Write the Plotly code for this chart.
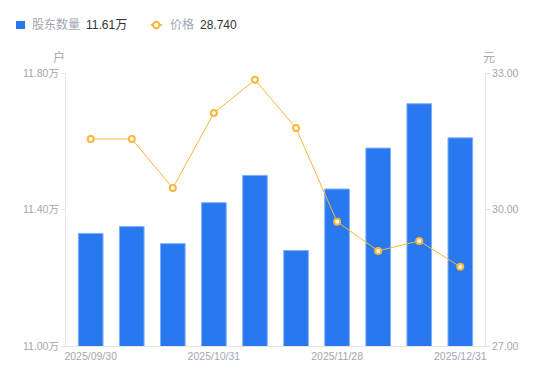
import plotly.graph_objects as go

categories = ["2025/09/30", "2025/10/10", "2025/10/20", "2025/10/31", "2025/11/10",
              "2025/11/20", "2025/11/28", "2025/12/10", "2025/12/19", "2025/12/31"]
holders_wan = [11.33, 11.35, 11.30, 11.42, 11.50, 11.28, 11.46, 11.58, 11.71, 11.61]
price = [31.55, 31.55, 30.47, 32.12, 32.85, 31.79, 29.73, 29.09, 29.31, 28.74]
tick_idx = [0, 3, 6, 9]
left_ticks = [11.0, 11.4, 11.8]
left_labels = ["11.00万", "11.40万", "11.80万"]
right_ticks = [27, 30, 33]
right_labels = ["27.00", "30.00", "33.00"]

FONT = "Liberation Sans, Arial, Noto Sans CJK SC, sans-serif"
GRAY = "#a3a6b2"
DARK = "#333333"
BLUE = "#2878f0"
ORANGE = "#f8b73c"

# The page body adds an 8px margin; the figure is sized so the plot lands where the reference has it.
W, H = 542, 373
L, R, T, B = 58, 65, 65, 35
PW, PH = W - L - R, H - T - B


def px(x):  # screen pixel x -> paper
    return (x - 8 - L) / PW


def py(y):  # screen pixel y -> paper
    return (H - B - (y - 8)) / PH


fig = go.Figure()
fig.add_trace(go.Bar(
    x=categories, y=holders_wan, base=0, name="股东数量",
    marker=dict(color=BLUE, line=dict(color="#7fb0f7", width=1)),
    width=0.6, yaxis="y", showlegend=False, hoverinfo="x+y",
))
fig.add_trace(go.Scatter(
    x=categories, y=price, mode="lines+markers", name="价格",
    line=dict(color=ORANGE, width=1),
    marker=dict(symbol="circle", size=6, color="white", line=dict(color=ORANGE, width=2)),
    yaxis="y2", showlegend=False,
))

shapes = [
    dict(type="rect", xref="paper", yref="paper", x0=px(16), x1=px(25), y0=py(29), y1=py(21),
         fillcolor=BLUE, line=dict(width=0)),
    dict(type="line", xref="paper", yref="paper", x0=px(151), x1=px(162), y0=py(25), y1=py(25),
         line=dict(color=ORANGE, width=2)),
    dict(type="circle", xref="paper", yref="paper", x0=px(153), x1=px(159.5), y0=py(28.2), y1=py(21.8),
         fillcolor="white", line=dict(color=ORANGE, width=2)),
]

annotations = [
    dict(text="股东数量", x=px(30), y=py(25), xanchor="left", yanchor="middle",
         font=dict(size=12, color=GRAY)),
    dict(text=f"{holders_wan[-1]:.2f}万", x=px(84), y=py(25), xanchor="left", yanchor="middle",
         font=dict(size=12, color=DARK)),
    dict(text="价格", x=px(168), y=py(25), xanchor="left", yanchor="middle",
         font=dict(size=12, color=GRAY)),
    dict(text=f"{price[-1]:.3f}", x=px(198), y=py(25), xanchor="left", yanchor="middle",
         font=dict(size=12, color=DARK)),
    dict(text="户", x=px(59), y=py(58), xanchor="center", yanchor="middle",
         font=dict(size=12, color=GRAY)),
    dict(text="元", x=px(489), y=py(58), xanchor="center", yanchor="middle",
         font=dict(size=12, color=GRAY)),
]
for a in annotations:
    a.update(xref="paper", yref="paper", showarrow=False)

fig.update_layout(
    width=W, height=H,
    margin=dict(l=L, r=R, t=T, b=B, autoexpand=False),
    plot_bgcolor="white", paper_bgcolor="white",
    font=dict(family=FONT, size=10, color=GRAY),
    showlegend=False,
    bargap=0.4,
    shapes=shapes,
    annotations=annotations,
    xaxis=dict(
        type="category", tickmode="array",
        tickvals=[categories[i] for i in tick_idx],
        ticktext=[categories[i] for i in tick_idx],
        showline=True, linecolor="#e3e5ea", linewidth=1, automargin=False,
        showgrid=False, ticks="", tickfont=dict(size=10.5, color=GRAY),
    ),
    yaxis=dict(
        range=[11.0, 11.8], tickvals=left_ticks, ticktext=left_labels,
        showline=True, linecolor="#e3e5ea", linewidth=1, automargin=False,
        ticks="outside", ticklen=4, tickcolor="#e3e5ea",
        showgrid=False, zeroline=False, tickfont=dict(size=10.5, color=GRAY),
    ),
    yaxis2=dict(
        range=[27, 33], tickvals=right_ticks, ticktext=right_labels,
        overlaying="y", side="right", automargin=False,
        showline=True, linecolor="#e3e5ea", linewidth=1,
        ticks="outside", ticklen=4, tickcolor="#e3e5ea",
        showgrid=False, zeroline=False, tickfont=dict(size=10.5, color=GRAY),
    ),
)

fig.write_html("out.html")
